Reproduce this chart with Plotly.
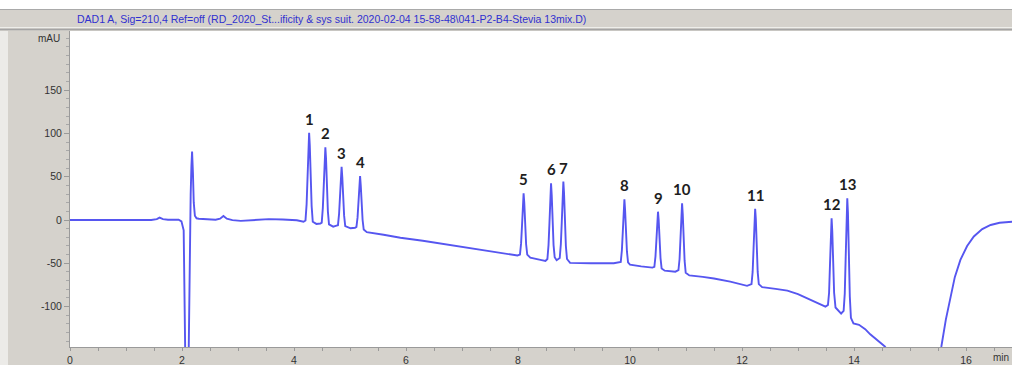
import plotly.graph_objects as go

# Chromatogram trace (retention time in min, signal in mAU), apexes excluded
time_min = [
    0.00, 1.45, 1.55, 1.60, 1.66, 1.75, 1.94, 1.99, 2.03, 2.06, 2.09, 2.12, 2.14, 2.155, 2.168,
    2.195, 2.21, 2.23, 2.26, 2.30, 2.45, 2.60, 2.68, 2.74, 2.80, 2.90, 3.05, 3.30, 3.55, 3.80,
    4.05, 4.17,
    4.205, 4.225, 4.242, 4.258, 4.282, 4.298, 4.315, 4.335, 4.40, 4.47,
    4.495, 4.515, 4.532, 4.548, 4.572, 4.588, 4.605, 4.625, 4.70, 4.76,
    4.785, 4.805, 4.822, 4.838, 4.862, 4.878, 4.895, 4.915, 5.01, 5.09,
    5.115, 5.135, 5.152, 5.168, 5.192, 5.208, 5.225, 5.245, 5.30,
    5.60, 5.90, 6.30, 6.70, 7.10, 7.50, 7.93, 7.99,
    8.035, 8.055, 8.072, 8.088, 8.112, 8.128, 8.145, 8.165, 8.22, 8.40, 8.49,
    8.525, 8.545, 8.562, 8.578, 8.602, 8.618, 8.635, 8.655, 8.69,
    8.745, 8.765, 8.782, 8.798, 8.822, 8.838, 8.855, 8.875, 8.93, 9.30, 9.71,
    9.835, 9.855, 9.872, 9.888, 9.912, 9.928, 9.945, 9.965, 10.00, 10.20, 10.40,
    10.435, 10.455, 10.472, 10.488, 10.512, 10.528, 10.545, 10.565, 10.62, 10.81,
    10.865, 10.885, 10.902, 10.918, 10.942, 10.958, 10.975, 10.995, 11.06, 11.30, 11.50, 11.79, 12.09,
    12.17, 12.19, 12.207, 12.223, 12.247, 12.263, 12.28, 12.30, 12.36, 12.60, 12.81, 13.00, 13.16,
    13.35, 13.49,
    13.535, 13.555, 13.572, 13.588, 13.612, 13.628, 13.645, 13.67, 13.72, 13.77,
    13.815, 13.835, 13.852, 13.868, 13.892, 13.908, 13.925, 13.945, 13.99, 14.09, 14.20, 14.29,
    14.42, 14.55, 14.75, 15.10, 15.40, 15.56, 15.64, 15.72, 15.80, 15.90, 16.02, 16.14, 16.29,
    16.44, 16.60, 16.83,
]
signal_mau = [
    0.0, 0.0, 1.0, 2.7, 1.0, 0.3, 0.3, -1.5, -12.0, -180.0, -320.0, -150.0, -10.0, 30.0, 62.0,
    55.0, 20.0, 5.0, 2.0, 1.5, 0.5, 0.3, 1.5, 4.6, 1.5, -0.2, -1.0, 0.0, 1.0, 0.6,
    -0.3, -2.0,
    -0.5, 18.0, 50.0, 86.0, 86.0, 48.0, 16.0, -2.0, -4.5, -4.0,
    -3.0, 14.0, 40.0, 72.0, 71.0, 38.0, 10.0, -5.0, -7.7, -6.5,
    -6.0, 7.0, 27.0, 51.0, 50.0, 25.0, 5.0, -7.0, -9.6, -9.0,
    -8.0, 3.0, 21.0, 41.0, 40.0, 19.0, 0.0, -11.0, -14.0,
    -17.0, -20.5, -24.0, -28.0, -31.5, -36.0, -40.4, -41.0,
    -40.0, -27.0, -6.0, 20.0, 20.0, -7.0, -28.0, -40.0, -43.5, -46.0, -47.3,
    -45.0, -29.0, -3.0, 29.0, 29.0, -3.0, -29.0, -43.0, -46.5,
    -44.0, -28.0, -2.0, 31.0, 31.0, -3.0, -30.0, -45.0, -49.5, -50.0, -50.0,
    -48.5, -35.0, -13.0, 12.0, 12.0, -14.0, -36.0, -49.0, -51.5, -53.5, -55.0,
    -54.0, -42.0, -23.0, 0.0, 0.0, -24.0, -44.0, -56.0, -58.5, -59.7,
    -58.0, -45.0, -21.0, 7.0, 7.0, -22.0, -47.0, -61.0, -64.0, -65.7, -67.5, -71.2, -76.0,
    -74.0, -60.0, -32.0, 1.0, 1.0, -32.0, -60.0, -74.0, -77.5, -79.5, -81.6, -85.5, -90.4,
    -96.0, -100.0,
    -98.0, -84.0, -50.0, -13.0, -13.0, -50.0, -84.0, -101.0, -104.0, -108.0,
    -105.0, -85.0, -42.0, 8.0, 8.0, -45.0, -88.0, -113.0, -119.5, -121.0, -126.0, -132.0,
    -139.0, -146.0, -165.0, -240.0, -190.0, -146.0, -115.0, -88.5, -66.0, -46.0, -30.0, -19.0, -10.5,
    -5.8, -3.2, -2.0,
]

# Solvent-front apex plus the thirteen numbered peaks
apex_time = [2.18, 4.27, 4.56, 4.85, 5.18, 8.10, 8.59, 8.81, 9.90, 10.50, 10.93, 12.235, 13.60, 13.88]
apex_mau = [79.0, 100.8, 84.0, 61.5, 50.8, 30.8, 42.4, 44.3, 23.9, 9.6, 19.2, 13.0, 2.0, 25.0]
apex_label = ["", "1", "2", "3", "4", "5", "6", "7", "8", "9", "10", "11", "12", "13"]

title_text = r"DAD1 A, Sig=210,4 Ref=off (RD_2020_St...ificity & sys suit. 2020-02-04 15-58-48\041-P2-B4-Stevia 13mix.D)"
y_ticks = [-100, -50, 0, 50, 100, 150]
x_ticks = [0, 2, 4, 6, 8, 10, 12, 14, 16]

# merge the apexes into the trace
points = sorted(zip(time_min + apex_time, signal_mau + apex_mau))
t_all = [p[0] for p in points]
s_all = [p[1] for p in points]

W, H = 1012, 365
ML, MR, MT, MB = 70, 0, 31, 18
PW, PH = W - ML - MR, H - MT - MB


def px_to_paper_x(px):
    return (px - ML) / PW


def px_to_paper_y(py):
    return (H - MB - py) / PH


fig = go.Figure()
fig.add_trace(go.Scatter(
    x=t_all, y=s_all, mode="lines",
    line=dict(color="#5656f0", width=1.9),
    hoverinfo="skip", showlegend=False,
))

annotations = []
for t, h, lab in zip(apex_time, apex_mau, apex_label):
    if not lab:
        continue
    annotations.append(dict(
        x=t, y=h, xref="x", yref="y", text=lab, showarrow=False,
        yanchor="bottom", xanchor="center", yshift=3,
        font=dict(family="Lato", size=15, color="#1e1e1e", weight="bold"),
    ))

annotations.append(dict(
    x=px_to_paper_x(75), y=px_to_paper_y(18.5), xref="paper", yref="paper",
    text=title_text, showarrow=False, xanchor="left", yanchor="middle",
    font=dict(family="Liberation Sans, Arial", size=10.5, color="#3030d0"),
))
annotations.append(dict(
    x=px_to_paper_x(62), y=px_to_paper_y(38), xref="paper", yref="paper",
    text="mAU", showarrow=False, xanchor="right", yanchor="middle",
    font=dict(family="Liberation Sans, Arial", size=10, color="#333333"),
))
annotations.append(dict(
    x=px_to_paper_x(1011), y=px_to_paper_y(357), xref="paper", yref="paper",
    text="min", showarrow=False, xanchor="right", yanchor="middle",
    font=dict(family="Liberation Sans, Arial", size=10, color="#333333"),
))

shapes = [
    # white strip above the header bar
    dict(type="rect", xref="paper", yref="paper",
         x0=px_to_paper_x(0), x1=1.0, y0=px_to_paper_y(9), y1=px_to_paper_y(0),
         fillcolor="#ffffff", line=dict(width=0), layer="above"),
    # light strip on the far left
    dict(type="rect", xref="paper", yref="paper",
         x0=px_to_paper_x(0), x1=px_to_paper_x(8), y0=px_to_paper_y(H), y1=px_to_paper_y(31),
         fillcolor="#ecebe8", line=dict(width=0), layer="above"),
    # header bar edges
    dict(type="line", xref="paper", yref="paper",
         x0=px_to_paper_x(0), x1=1.0, y0=px_to_paper_y(9.5), y1=px_to_paper_y(9.5),
         line=dict(color="#a9a9a9", width=1), layer="above"),
    dict(type="line", xref="paper", yref="paper",
         x0=px_to_paper_x(0), x1=1.0, y0=px_to_paper_y(27.5), y1=px_to_paper_y(27.5),
         line=dict(color="#eeeeea", width=1), layer="above"),
    dict(type="line", xref="paper", yref="paper",
         x0=px_to_paper_x(0), x1=1.0, y0=px_to_paper_y(29.5), y1=px_to_paper_y(29.5),
         line=dict(color="#a4a4a4", width=1.5), layer="above"),
]

axis_font = dict(family="Liberation Sans, Arial", size=10.5, color="#333333")

fig.update_layout(
    width=W, height=H,
    margin=dict(l=ML, r=MR, t=MT, b=MB, pad=0),
    paper_bgcolor="#d5d2cc",
    plot_bgcolor="#ffffff",
    showlegend=False,
    annotations=annotations,
    shapes=shapes,
    xaxis=dict(
        range=[0, PW / 56.0], tickvals=x_ticks, ticktext=[str(v) for v in x_ticks],
        showgrid=False, zeroline=False, showline=True, linecolor="#9a9a9a", linewidth=1,
        ticks="outside", ticklen=3, tickcolor="#9a9a9a",
        minor=dict(dtick=0.5, ticks="outside", ticklen=3, tickcolor="#9a9a9a"),
        tickfont=axis_font, fixedrange=True,
    ),
    yaxis=dict(
        range=[(220 - 347) / 0.866, (220 - 31) / 0.866],
        tickvals=y_ticks, ticktext=[str(v) for v in y_ticks],
        showgrid=False, zeroline=False, showline=True, linecolor="#9a9a9a", linewidth=1,
        ticks="outside", ticklen=5, tickcolor="#9a9a9a",
        minor=dict(dtick=10, ticks="outside", ticklen=3, tickcolor="#a8a8a8"),
        tickfont=axis_font, fixedrange=True,
    ),
)

fig.write_html("out.html", config={"displayModeBar": False})
